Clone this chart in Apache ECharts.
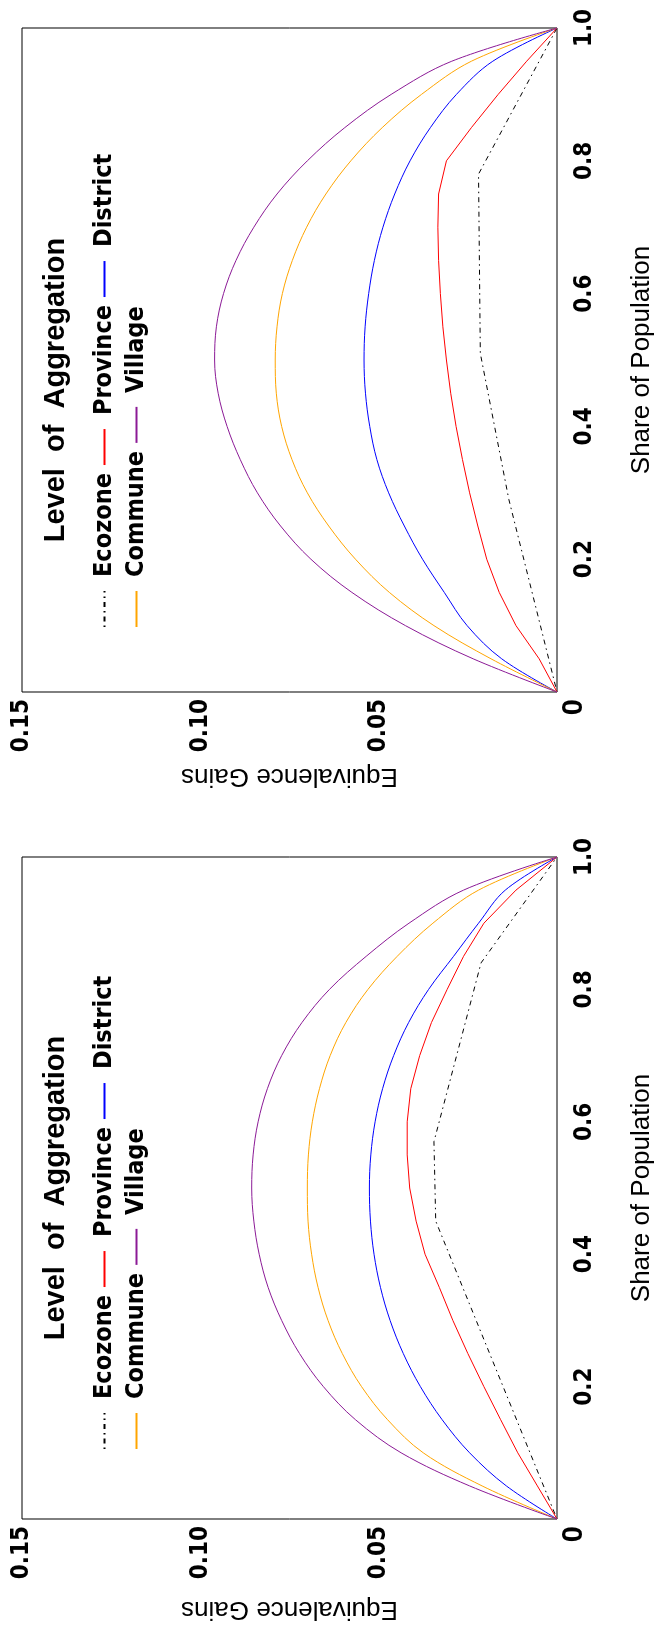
<!DOCTYPE html>
<html>
<head>
<meta charset="utf-8">
<script src="https://cdn.jsdelivr.net/npm/echarts@6/dist/echarts.min.js"></script>
<style>
  body { margin: 0; background: #fff; }
  .panel {
    position: absolute; left: 0; width: 815px; height: 660px;
    transform-origin: 0 0;
  }
  #top { top: 0; transform: translate(0px, 815px) rotate(-90deg); }
  #bottom { top: 815px; transform: translate(0px, 815px) rotate(-90deg); }
</style>
</head>
<body>
<div id="top" class="panel"></div>
<div id="bottom" class="panel"></div>
<script>
// share of population (x)
const share = [0, 0.05, 0.1, 0.15, 0.2, 0.25, 0.3, 0.35, 0.4, 0.45, 0.5,
  0.55, 0.6, 0.65, 0.7, 0.75, 0.8, 0.85, 0.9, 0.95, 1];
const levels = ["Ecozone", "Province", "District", "Commune", "Village"];

// upper panel
const topEcoX = [0, 0.29, 0.51, 0.78, 1];
const topEco = [0, 0.0135, 0.0215, 0.022, 0];
const topProvince = [0, 0.005, 0.0115, 0.0162, 0.0197, 0.0222, 0.0245, 0.0265, 0.0283, 0.0298, 0.031,
  0.032, 0.0327, 0.0332, 0.0334, 0.0332, 0.031, 0.024, 0.0165, 0.0085, 0];
const topDistrict = [0, 0.0155, 0.0252, 0.0316, 0.0377, 0.0428, 0.0472, 0.0505, 0.0525, 0.0537, 0.0541,
  0.0538, 0.0528, 0.0512, 0.0488, 0.0455, 0.0412, 0.0355, 0.0282, 0.018, 0];
const topCommune = [0, 0.0185, 0.0345, 0.047, 0.0565, 0.064, 0.07, 0.0743, 0.0772, 0.0787, 0.079,
  0.0785, 0.077, 0.0742, 0.0702, 0.0648, 0.0578, 0.049, 0.038, 0.024, 0];
const topVillage = [0, 0.0235, 0.0425, 0.0575, 0.069, 0.0775, 0.084, 0.0888, 0.0925, 0.095, 0.096,
  0.0955, 0.0935, 0.09, 0.085, 0.0785, 0.07, 0.0595, 0.0465, 0.0295, 0];

// lower panel
const botEcoX = [0, 0.45, 0.57, 0.84, 1];
const botEco = [0, 0.034, 0.0345, 0.0213, 0];
const botProvince = [0, 0.0055, 0.011, 0.0158, 0.0205, 0.025, 0.0292, 0.033, 0.037, 0.0395, 0.0413,
  0.042, 0.042, 0.041, 0.0385, 0.0352, 0.0308, 0.0262, 0.0205, 0.0115, 0];
const botDistrict = [0, 0.0142, 0.0245, 0.0322, 0.0383, 0.0431, 0.0468, 0.0495, 0.0513, 0.0523, 0.0526,
  0.0522, 0.051, 0.0489, 0.0458, 0.0416, 0.036, 0.029, 0.022, 0.0145, 0];
const botCommune = [0, 0.021, 0.0375, 0.0475, 0.0548, 0.0602, 0.0642, 0.067, 0.0688, 0.0698, 0.07,
  0.0697, 0.0686, 0.0666, 0.0636, 0.0592, 0.053, 0.0448, 0.0348, 0.022, 0];
const botVillage = [0, 0.0245, 0.0437, 0.0565, 0.0655, 0.0722, 0.0772, 0.081, 0.0835, 0.085, 0.0856,
  0.0852, 0.0838, 0.0812, 0.0772, 0.0715, 0.0638, 0.0535, 0.0415, 0.0262, 0];

const colors = { Ecozone: "#000000", Province: "#ff0000", District: "#0000ff", Commune: "#ffa500", Village: "#8b1a96" };
const narrow = "'Liberation Sans Narrow', 'DejaVu Sans Condensed', 'Liberation Sans', sans-serif";
const plain = "'Liberation Sans', Arial, sans-serif";

const pairs = (xs, ys) => xs.map((x, i) => [x, ys[i]]);

function makePanel(el, p) {
  const chart = echarts.init(el);
  const lineSeries = (name, data, smooth) => ({
    name, type: "line", data, symbol: "none", smooth: smooth,
    lineStyle: {
      color: colors[name], width: 1,
      type: name === "Ecozone" ? [1.5, 4, 5, 4] : "solid"
    },
    itemStyle: { color: colors[name] },
    animation: false
  });
  const legendBase = {
    orient: "horizontal", padding: 0, itemGap: 7, itemWidth: 36, itemHeight: 14,
    left: p.legendLeft,
    itemStyle: { opacity: 0, color: "transparent", borderColor: "transparent", borderWidth: 0 },
    textStyle: { fontFamily: narrow, fontWeight: "bold", fontSize: 25, color: "#000",
      width: 161, padding: [0, 0, 0, 9] }
  };
  chart.setOption({
    animation: false,
    title: {
      text: "Level  of  Aggregation", left: p.titleX, top: p.titleTop, textAlign: "center",
      textStyle: { fontFamily: plain, fontWeight: "bold", fontSize: 29, color: "#000" }
    },
    legend: [
      Object.assign({}, legendBase, { top: p.legendTop, data: levels.slice(0, 3) }),
      Object.assign({}, legendBase, { top: p.legendTop + 32, data: levels.slice(3) })
    ],
    grid: { left: p.left, right: p.right, top: 22, bottom: 102, show: true,
      borderColor: "#000", borderWidth: 1, containLabel: false },
    xAxis: {
      type: "value", min: 0, max: 1, interval: 0.2,
      name: "Share of Population", nameLocation: "middle", nameGap: 72,
      nameTextStyle: { fontFamily: plain, fontSize: 26, color: "#000" },
      axisLine: { show: false }, axisTick: { show: false }, splitLine: { show: false },
      axisLabel: { showMinLabel: true, showMaxLabel: true, margin: 16,
        fontFamily: narrow, fontWeight: "bold", fontSize: 24, color: "#000",
        formatter: v => (v === 0 ? "" : v.toFixed(1)) }
    },
    yAxis: {
      type: "value", min: 0, max: 0.15, interval: 0.05,
      name: "Equivalence Gains", nameLocation: "middle", nameGap: p.yNameGap, nameRotate: 90,
      nameTextStyle: { fontFamily: plain, fontSize: 26, color: "#000" },
      axisLine: { show: false }, axisTick: { show: false }, splitLine: { show: false },
      axisLabel: { showMinLabel: true, showMaxLabel: true, margin: 7,
        fontFamily: narrow, fontWeight: "bold", fontSize: 24, color: "#000",
        formatter: v => (v === 0 ? "{o|0}" : v.toFixed(2)),
        rich: { o: { fontFamily: plain, fontWeight: "bold", fontSize: 29, padding: [34, 0, 0, 0] } } }
    },
    series: [
      lineSeries("Ecozone", pairs(p.ecoX, p.eco), false),
      lineSeries("Province", pairs(share, p.province), false),
      lineSeries("District", pairs(share, p.district), 0.35),
      lineSeries("Commune", pairs(share, p.commune), 0.35),
      lineSeries("Village", pairs(share, p.village), 0.35)
    ]
  });
}

makePanel(document.getElementById("top"), {
  left: 123, right: 28, yNameGap: 69,
  legendLeft: 187, legendTop: 92, titleX: 420, titleTop: 36,
  ecoX: topEcoX, eco: topEco, province: topProvince, district: topDistrict,
  commune: topCommune, village: topVillage
});
makePanel(document.getElementById("bottom"), {
  left: 108, right: 42, yNameGap: 77,
  legendLeft: 180, legendTop: 92, titleX: 437, titleTop: 36,
  ecoX: botEcoX, eco: botEco, province: botProvince, district: botDistrict,
  commune: botCommune, village: botVillage
});
</script>
</body>
</html>
